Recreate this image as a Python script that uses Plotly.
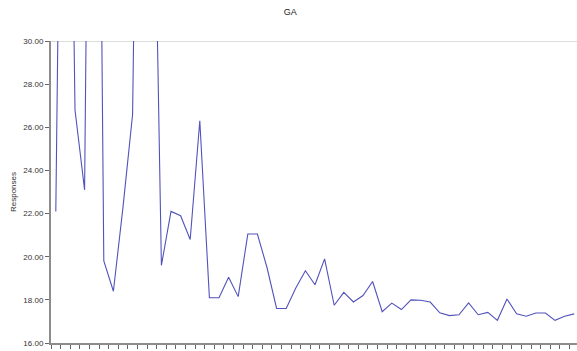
import plotly.graph_objects as go

# Responses per generation of the GA run
generation = list(range(55))
responses = [
    22.1, 60.0, 26.8, 23.1, 70.0, 19.8, 18.4, 22.3, 26.6, 60.0,
    45.0, 19.6, 22.1, 21.9, 20.8, 26.3, 18.1, 18.1, 19.05, 18.15,
    21.05, 21.05, 19.5, 17.6, 17.6, 18.55, 19.35, 18.7, 19.9, 17.75,
    18.35, 17.9, 18.2, 18.85, 17.45, 17.85, 17.55, 18.0, 17.98, 17.9,
    17.4, 17.27, 17.31, 17.86, 17.31, 17.42, 17.05, 18.04, 17.35, 17.24,
    17.39, 17.39, 17.05, 17.24, 17.35,
]

y_ticks = [16, 18, 20, 22, 24, 26, 28, 30]

axis_grey = "#8c8c8c"
font = "Liberation Sans, Arial, sans-serif"

fig = go.Figure()
fig.add_trace(go.Scatter(
    x=generation, y=responses, mode="lines",
    line=dict(color="#5252bc", width=1.1),
    hoverinfo="skip", showlegend=False,
))

# light rule along the top of the value range
fig.add_shape(type="line", xref="paper", yref="y", x0=0, x1=1, y0=30, y1=30,
              line=dict(color="#d2d2d2", width=1.5), layer="below")

fig.update_layout(
    width=577, height=351,
    margin=dict(l=51, r=0, t=41, b=8, autoexpand=False),
    paper_bgcolor="white", plot_bgcolor="white",
    font=dict(family=font, size=8, color="#333333"),
    title=dict(text="GA", x=0.503, xref="container", xanchor="center",
               y=0.965, yref="container", yanchor="middle",
               font=dict(family=font, size=9, color="#222222")),
    xaxis=dict(
        range=[-0.5, -0.5 + 526 / 9.6], showgrid=False, zeroline=False,
        showline=True, linecolor=axis_grey, linewidth=1.5,
        tickmode="linear", tick0=-0.5, dtick=1,
        ticks="outside", ticklen=4, tickwidth=1, tickcolor="#666666",
        showticklabels=False,
    ),
    yaxis=dict(
        range=[16, 30], showgrid=False, zeroline=False,
        showline=True, linecolor=axis_grey, linewidth=2,
        tickmode="array", tickvals=y_ticks,
        ticktext=[f"{v:.2f}" for v in y_ticks],
        ticks="outside", ticklen=4, tickwidth=1, tickcolor="#666666",
        tickfont=dict(size=8, color="#333333"),
        title=dict(text="Responses", standoff=6,
                   font=dict(size=8, color="#333333")),
    ),
)

fig.write_html("out.html")
